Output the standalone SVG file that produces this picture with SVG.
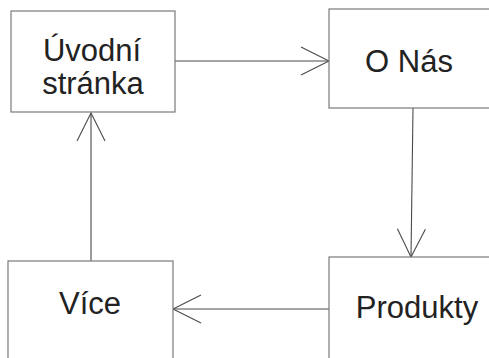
<svg xmlns="http://www.w3.org/2000/svg" width="489" height="358" viewBox="0 0 489 358">
  <style>
    .box { fill: #ffffff; stroke: #7a7a7a; stroke-width: 1.2; }
    .lbl { font-family: "Liberation Sans", Arial, sans-serif; font-size: 31px; fill: #222222; text-anchor: middle; }
    .edge { fill: none; stroke: #4a4a4a; stroke-width: 1.1; }
  </style>
  <defs>
    <marker id="open-arrow" markerUnits="userSpaceOnUse" markerWidth="32" markerHeight="32" refX="0" refY="0" viewBox="-30 -16 32 32" orient="auto" overflow="visible">
      <path d="M-28,-14 L0,0 L-28,14" fill="none" stroke="#4a4a4a" stroke-width="1.1"/>
    </marker>
  </defs>

  <rect width="489" height="358" fill="#ffffff"/>

  <g id="connectors">
    <path class="edge" d="M175,61 L329,61" marker-end="url(#open-arrow)"/>
    <path class="edge" d="M413,108 L411,257" marker-end="url(#open-arrow)"/>
    <path class="edge" d="M329,309 L173,309" marker-end="url(#open-arrow)"/>
    <path class="edge" d="M91,261 L91,113" marker-end="url(#open-arrow)"/>
  </g>

  <g id="node-uvodni">
    <rect class="box" x="11" y="11" width="164" height="101"/>
    <text class="lbl" x="92" y="61">Úvodní</text>
    <text class="lbl" x="93" y="94">stránka</text>
  </g>

  <g id="node-o-nas">
    <rect class="box" x="329" y="9" width="175" height="99"/>
    <text class="lbl" x="409" y="72">O Nás</text>
  </g>

  <g id="node-produkty">
    <rect class="box" x="329" y="257" width="175" height="120"/>
    <text class="lbl" x="417" y="318">Produkty</text>
  </g>

  <g id="node-vice">
    <rect class="box" x="8" y="261" width="165" height="120"/>
    <text class="lbl" x="90" y="314">Více</text>
  </g>
</svg>
